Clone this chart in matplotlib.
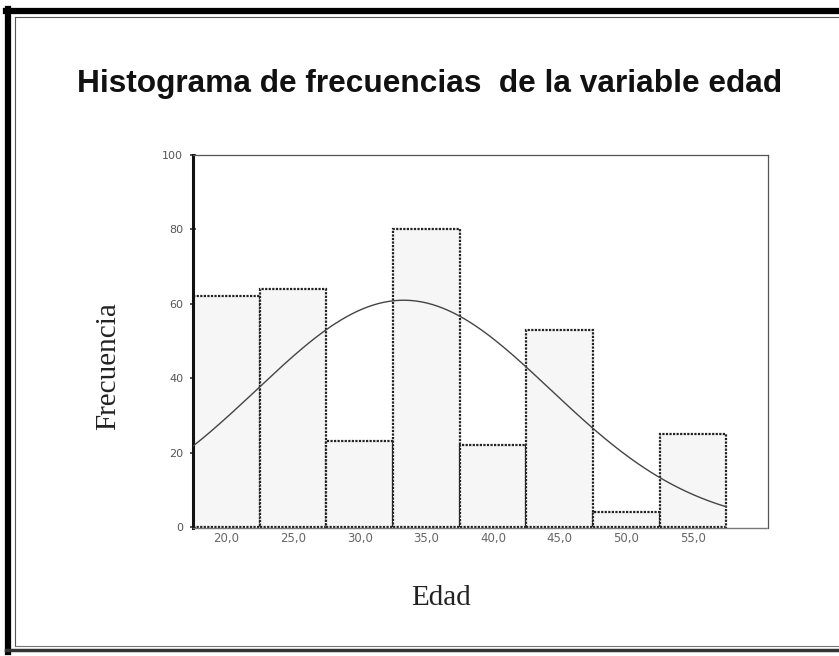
import numpy as np
import matplotlib.pyplot as plt
from matplotlib.lines import Line2D

# Datos
edad = [20, 25, 30, 35, 40, 45, 50, 55]
frecuencia = [62, 64, 23, 80, 22, 53, 4, 25]
etiquetas_x = ["20,0", "25,0", "30,0", "35,0", "40,0", "45,0", "50,0", "55,0"]
ancho = 5

# Parámetros de la curva normal ajustada
media = 33.3
desv = 11.0
n_total = 336

W, H = 839, 656
fig = plt.figure(figsize=(W / 100, H / 100), dpi=100)
ax = fig.add_axes([0.230, 0.195, 0.685, 0.569])

# Barras
ax.bar(edad, frecuencia, width=ancho, color='#f6f6f6', edgecolor='#222222',
       linewidth=1.6, linestyle=(0, (1, 0.6)), zorder=2)

# Curva normal
x = np.linspace(17.5, 57.5, 300)
y = n_total * ancho / (desv * np.sqrt(2 * np.pi)) * np.exp(-0.5 * ((x - media) / desv) ** 2)
ax.plot(x, y, color='#444444', linewidth=1.0, zorder=3)

ax.set_xlim(17.5, 60.6)
ax.set_ylim(-0.3, 100)
ax.set_yticks([0, 20, 40, 60, 80, 100])
ax.set_xticks(edad)
ax.set_xticklabels(etiquetas_x)

ax.tick_params(axis='y', direction='inout', length=4, width=1.2, colors='#333333',
               labelcolor='#555555', labelsize=8, pad=5)
ax.tick_params(axis='x', length=0, labelcolor='#666666', labelsize=8.5, pad=3)

ax.spines['left'].set_linewidth(2.2)
ax.spines['left'].set_color('#111111')
ax.spines['top'].set_linewidth(0.9)
ax.spines['top'].set_color('#555555')
ax.spines['right'].set_linewidth(0.9)
ax.spines['right'].set_color('#555555')
ax.spines['bottom'].set_linewidth(1.0)
ax.spines['bottom'].set_color('#777777')
ax.spines['bottom'].set_linestyle((0, (1, 1)))

# Rótulos de ejes
fig.text(108 / W, 1 - 366 / H, "Frecuencia", rotation=90, ha='center', va='center',
         family='Liberation Serif', fontsize=21, color='#222222')
fig.text(441 / W, 1 - 605 / H, "Edad", ha='center', va='baseline',
         family='Liberation Serif', fontsize=21, color='#222222')

fig.text(430 / W, 1 - 92 / H, "Histograma de frecuencias  de la variable edad",
         ha='center', va='baseline', family='Liberation Sans', fontweight='bold',
         fontsize=22.8, color='#111111')

# Marco exterior
fig.add_artist(Line2D([8 / W, 8 / W], [4 / H, 1 - 9 / H], color='black', linewidth=4.5))
fig.add_artist(Line2D([6 / W, 1], [1 - 11 / H, 1 - 11 / H], color='black', linewidth=4.5))
fig.add_artist(Line2D([6 / W, 1], [6 / H, 6 / H], color='#333333', linewidth=2.5))
fig.add_artist(Line2D([15 / W, 15 / W], [10 / H, 1 - 17 / H], color='#555555', linewidth=0.8))
fig.add_artist(Line2D([15 / W, 1], [1 - 17 / H, 1 - 17 / H], color='#555555', linewidth=0.8))
fig.add_artist(Line2D([15 / W, 1], [10 / H, 10 / H], color='#777777', linewidth=0.8))

fig.savefig("out.png", dpi=100)
